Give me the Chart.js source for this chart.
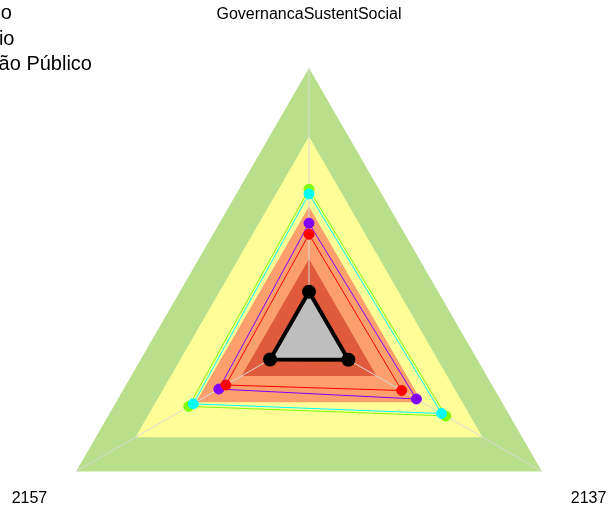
<!DOCTYPE html>
<html>
<head>
<meta charset="utf-8">
<script src="https://cdn.jsdelivr.net/npm/chart.js@4"></script>
<style>
  html, body { margin: 0; padding: 0; background: #fff; overflow: hidden; width: 608px; height: 512px; }
  #wrap { position: absolute; left: 0; top: 0; width: 608px; height: 620px; }
  .leg { position: absolute; text-align: right; white-space: nowrap;
         font: 20px "Liberation Sans", Arial, sans-serif; line-height: 25.5px; color: #000; }
</style>
</head>
<body>
<div id="wrap"><canvas id="radar" width="608" height="620"></canvas></div>
<!-- legend sits mostly off the left edge, like the original -->
<div class="leg" style="left:-300px; width:312px; top:0px;">Mínimo</div>
<div class="leg" style="left:-300px; width:314.5px; top:25.7px;">Médio</div>
<div class="leg" style="left:-300px; width:392px; top:51.4px;">Gestão Público</div>
<script>
// axes, clockwise from the top
const axisLabels = ['GovernancaSustentSocial', '2137', '2157'];

// background bands (outer limit of each band, scale 0-100)
const bandLimits = [100, 74.5, 48.5, 29];
const bandColors = ['#badf8c', '#fefe98', '#fba06c', '#e05a3c'];

// series values [top, bottom-right, bottom-left]
const serieMinimo = [16.8, 16.9, 16.7];
const serieRed = [38.2, 39.8, 35.7];
const seriePurple = [42.3, 46.1, 38.7];
const serieCyan = [53.2, 56.9, 49.7];
const serieGreen = [54.9, 58.7, 51.6];

const datasets = [];

// bands: biggest drawn first
bandLimits.forEach(function(v, i) {
    datasets.push({
        label: 'band' + i,
        data: [v, v, v],
        backgroundColor: bandColors[i],
        borderWidth: 0,
        pointRadius: 0,
        fill: true,
        order: 20 - i,
        spokesAfter: i === bandLimits.length - 1
    });
});

function serie(label, data, color, order) {
    return {
        label: label,
        data: data,
        borderColor: color,
        borderWidth: 1,
        backgroundColor: 'transparent',
        pointBackgroundColor: color,
        pointBorderColor: color,
        pointRadius: 5,
        fill: false,
        order: order
    };
}

datasets.push(serie('Verde', serieGreen, '#7fff00', 5));
datasets.push(serie('Ciano', serieCyan, '#00ffff', 4));
datasets.push(serie('Roxo', seriePurple, '#8000ff', 3));
datasets.push(serie('Vermelho', serieRed, '#ff0000', 2));
datasets.push({
    label: 'Mínimo',
    data: serieMinimo,
    borderColor: '#000',
    borderWidth: 4,
    backgroundColor: '#bebebe',
    pointBackgroundColor: '#000',
    pointBorderColor: '#000',
    pointRadius: 5,
    fill: true,
    order: 1
});

// light grey spokes, drawn on top of the bands but under the series
const spokes = {
    id: 'spokes',
    afterDatasetDraw(chart, args) {
        if (!chart.data.datasets[args.index].spokesAfter) return;
        const scale = chart.scales.r;
        const ctx = chart.ctx;
        const c = scale.getPointPosition(0, 0);
        ctx.save();
        ctx.strokeStyle = '#d9d9d9';
        ctx.lineWidth = 1;
        for (let i = 0; i < axisLabels.length; i++) {
            const p = scale.getPointPosition(i, scale.drawingArea);
            ctx.beginPath();
            ctx.moveTo(c.x, c.y);
            ctx.lineTo(p.x, p.y);
            ctx.stroke();
        }
        ctx.restore();
    }
};

// axis names placed at 1.2 x radius
const axisNames = {
    id: 'axisNames',
    afterDraw(chart) {
        const scale = chart.scales.r;
        const ctx = chart.ctx;
        ctx.save();
        ctx.font = '16px "Liberation Sans", Arial, sans-serif';
        ctx.fillStyle = '#000';
        ctx.textAlign = 'center';
        ctx.textBaseline = 'middle';
        for (let i = 0; i < axisLabels.length; i++) {
            const p = scale.getPointPosition(i, scale.drawingArea * 1.2);
            ctx.fillText(axisLabels[i], p.x, p.y);
        }
        ctx.restore();
    }
};

const ctx = document.getElementById('radar').getContext('2d');
new Chart(ctx, {
    type: 'radar',
    data: { labels: axisLabels, datasets: datasets },
    options: {
        responsive: false,
        animation: false,
        layout: { padding: { left: 40, right: 30, top: 68, bottom: 14 } },
        elements: { line: { tension: 0 } },
        plugins: {
            legend: { display: false },
            tooltip: { enabled: false }
        },
        scales: {
            r: {
                min: 0,
                max: 100,
                ticks: { display: false },
                grid: { display: false },
                angleLines: { display: false },
                pointLabels: { display: false }
            }
        }
    },
    plugins: [spokes, axisNames]
});
</script>
</body>
</html>
